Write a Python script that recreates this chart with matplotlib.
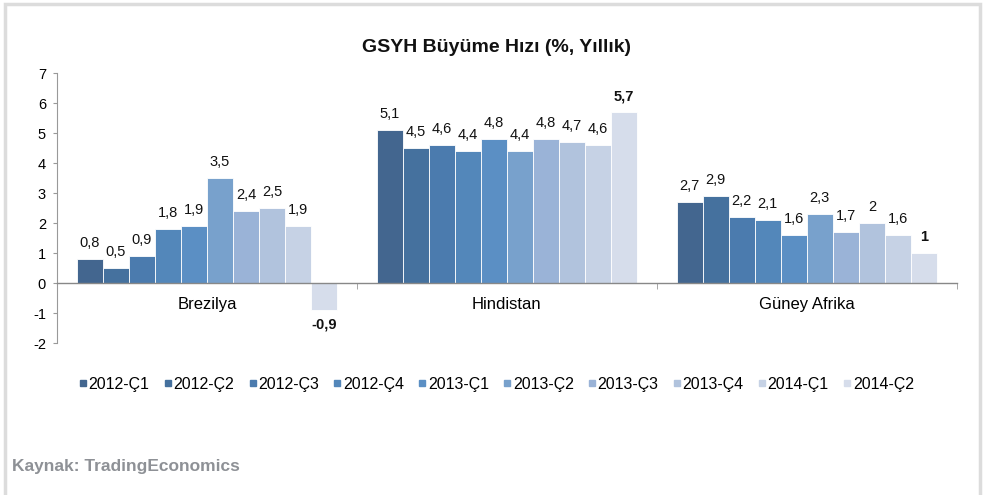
import matplotlib.pyplot as plt
from matplotlib.patches import Rectangle
from matplotlib.lines import Line2D
import numpy as np

plt.rcParams["axes.unicode_minus"] = False

# data
countries = ["Brezilya", "Hindistan", "Güney Afrika"]
quarters = ["2012-Ç1", "2012-Ç2", "2012-Ç3", "2012-Ç4", "2013-Ç1",
            "2013-Ç2", "2013-Ç3", "2013-Ç4", "2014-Ç1", "2014-Ç2"]
brezilya = [0.8, 0.5, 0.9, 1.8, 1.9, 3.5, 2.4, 2.5, 1.9, -0.9]
hindistan = [5.1, 4.5, 4.6, 4.4, 4.8, 4.4, 4.8, 4.7, 4.6, 5.7]
guney_afrika = [2.7, 2.9, 2.2, 2.1, 1.6, 2.3, 1.7, 2.0, 1.6, 1.0]

colors = ["#43668f", "#45719e", "#4b7bae", "#5387ba", "#5b8fc4",
          "#78a1cc", "#9ab3d7", "#b1c3dd", "#c6d2e5", "#d6ddeb"]

values = np.array([brezilya, hindistan, guney_afrika])  # country x quarter


def fmt(v):
    s = ("%.1f" % v).rstrip("0").rstrip(".")
    return s.replace(".", ",")


fig = plt.figure(figsize=(9.92, 4.95), dpi=100)
ax = fig.add_axes([0.0575, 0.307, 0.907, 0.5455])

n = len(quarters)
group_w = 0.867
w = group_w / n
x = np.arange(len(countries))

for i in range(n):
    pos = x - group_w / 2 + w * (i + 0.5)
    bars = ax.bar(pos, values[:, i], w, color=colors[i], edgecolor="white",
                  linewidth=0.6, label=quarters[i], zorder=2)
    last = i == n - 1
    for b, v in zip(bars, values[:, i]):
        if v >= 0:
            y, va = v + 0.3, "bottom"
        else:
            y, va = v - 0.25, "top"
        ax.text(b.get_x() + b.get_width() / 2, y, fmt(v), ha="center", va=va,
                fontsize=10.5, family="Liberation Sans",
                fontweight="bold" if last else "normal", color="#111111")

ax.set_ylim(-2, 7)
ax.set_xlim(-0.5, 2.5)
ax.set_yticks(range(-2, 8))
ax.tick_params(axis="y", length=3, color="#999999", labelsize=10.5, pad=5)
for t in ax.get_yticklabels():
    t.set_family("Liberation Sans")

ax.spines["top"].set_visible(False)
ax.spines["right"].set_visible(False)
ax.spines["left"].set_color("#999999")
ax.spines["bottom"].set_position(("data", 0))
ax.spines["bottom"].set_color("#888888")
ax.spines["bottom"].set_linewidth(1.0)
ax.spines["bottom"].set_zorder(3)

ax.set_xticks(x)
ax.set_xticklabels(countries, family="Liberation Sans", fontsize=12)
ax.set_xticks([-0.5, 0.5, 1.5, 2.5], minor=True)
ax.tick_params(axis="x", which="major", length=0, pad=10)
ax.tick_params(axis="x", which="minor", length=4, color="#999999")

fig.text(0.5, 0.905, "GSYH Büyüme Hızı (%, Yıllık)", ha="center", va="center",
         fontsize=14, fontweight="bold",
         family=["Liberation Sans Narrow", "Liberation Sans"], color="#111111")

handles = [Line2D([], [], marker="s", linestyle="none", markersize=5,
                  markerfacecolor=c, markeredgecolor=c) for c in colors]
fig.legend(handles, quarters, ncol=n, loc="center", bbox_to_anchor=(0.5, 0.224),
           frameon=False, handlelength=0.6, handletextpad=0.05,
           columnspacing=0.85,
           prop={"family": ["Liberation Sans Narrow", "Liberation Sans"],
                 "size": 11.5})

fig.text(0.012, 0.057, "Kaynak: TradingEconomics", ha="left", va="center",
         fontsize=12.5, fontweight="bold",
         family=["Liberation Sans Narrow", "Liberation Sans"], color="#8e9196")

# frame around the chart
fig.patches.append(Rectangle((5 / 992, -0.1), 975 / 992, 1.1 - 4 / 495,
                             transform=fig.transFigure, fill=False,
                             edgecolor="#dcdcdc", linewidth=2.5))

fig.savefig("out.png", dpi=100, facecolor="white")
